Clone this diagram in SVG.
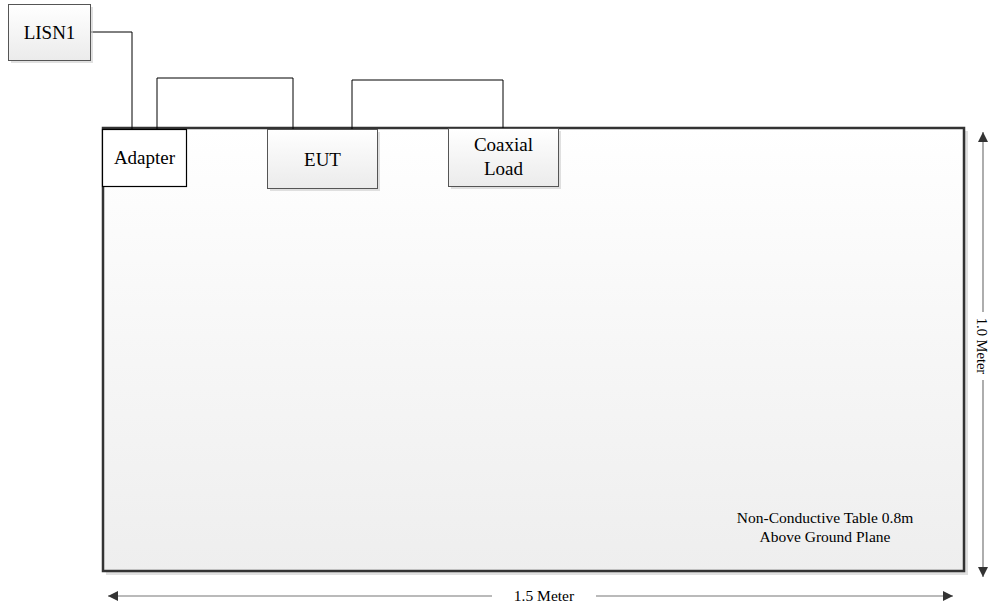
<svg xmlns="http://www.w3.org/2000/svg" width="990" height="607" viewBox="0 0 990 607">
<defs>
<linearGradient id="boxg" x1="0" y1="0" x2="0" y2="1"><stop offset="0" stop-color="#ffffff"/><stop offset="1" stop-color="#ebebeb"/></linearGradient>
<linearGradient id="tableg" x1="0" y1="0" x2="0" y2="1"><stop offset="0" stop-color="#ffffff"/><stop offset="1" stop-color="#eeeeee"/></linearGradient>
<marker id="ah" viewBox="0 0 10 10" refX="10" refY="5" markerWidth="16" markerHeight="10" markerUnits="userSpaceOnUse" orient="auto-start-reverse"><path d="M0,0 L10,5 L0,10 Z" fill="#333"/></marker>
</defs>
<style>
.t{font-family:"Liberation Serif","Times New Roman",serif;fill:#000;text-anchor:middle}
.big{font-size:19px}
.sm{font-size:15.5px}
.box{fill:url(#boxg);stroke:#555;stroke-width:1}
.shadow{fill:#ccc;opacity:0.6}
.conn{fill:none;stroke:#000;stroke-width:1}
.dim{fill:none;stroke:#777;stroke-width:1.2}
</style>
<rect width="990" height="607" fill="#fff"/>
<g id="table">
<rect x="106" y="131" width="862" height="444" class="shadow"/>
<rect x="103" y="128" width="861" height="443" fill="url(#tableg)" stroke="#333" stroke-width="2.5"/>
<text class="t sm" x="825" y="523">Non-Conductive Table 0.8m</text>
<text class="t sm" x="825" y="542">Above Ground Plane</text>
</g>
<g id="connectors">
<path class="conn" d="M90,32 H132 V129"/>
<path class="conn" d="M157,129 V78 H293 V129"/>
<path class="conn" d="M352,129 V80 H503 V128"/>
</g>
<g id="lisn1">
<rect x="11" y="7" width="82" height="56" class="shadow"/>
<rect x="8.5" y="4.5" width="82" height="56" class="box"/>
<text class="t big" x="49.5" y="39">LISN1</text>
</g>
<g id="adapter">
<rect x="102.5" y="129.5" width="84" height="57" fill="#fff" stroke="#000" stroke-width="1.2"/>
<text class="t big" x="144.5" y="164">Adapter</text>
</g>
<g id="eut">
<rect x="270" y="132" width="110" height="59" class="shadow"/>
<rect x="267.5" y="129.5" width="110" height="59" class="box"/>
<text class="t big" x="322.5" y="166">EUT</text>
</g>
<g id="coaxial">
<rect x="451" y="131" width="110" height="58" class="shadow"/>
<rect x="448.5" y="128.5" width="110" height="58" class="box"/>
<text class="t big" x="503.5" y="151">Coaxial</text>
<text class="t big" x="503.5" y="175">Load</text>
</g>
<g id="dimensions">
<path class="dim" d="M492,596 H108" marker-end="url(#ah)"/>
<path class="dim" d="M596,596 H953" marker-end="url(#ah)"/>
<text class="t sm" x="544" y="601">1.5 Meter</text>
<path class="dim" d="M983,312 V132" marker-end="url(#ah)"/>
<path class="dim" d="M983,380 V577" marker-end="url(#ah)"/>
<text class="t" style="font-size:14.5px" x="0" y="0" transform="translate(976.5,346) rotate(90)">1.0 Meter</text>
</g>
</svg>
